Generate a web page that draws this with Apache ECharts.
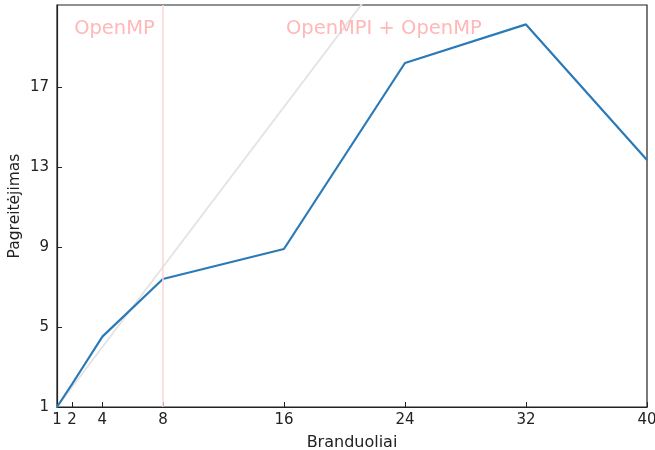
<!DOCTYPE html>
<html>
<head>
<meta charset="utf-8">
<script src="https://cdn.jsdelivr.net/npm/echarts@6/dist/echarts.min.js"></script>
<style>html,body{margin:0;padding:0;background:#fff}#c{width:655px;height:450px}</style>
</head>
<body>
<div id="c"></div>
<script>
const cores = [1, 2, 4, 8, 16, 24, 32, 40];
const speedup = [1, 2.15, 4.52, 7.4, 8.9, 18.2, 20.13, 13.35];
const idealX = [1, 40];
const xTicks = [1, 2, 4, 8, 16, 24, 32, 40];
const yTicks = [1, 5, 9, 13, 17];
const boundaryX = 8;
const annotations = [
  { text: 'OpenMP', x: 2, y: 19.9 },
  { text: 'OpenMPI + OpenMP', x: 16, y: 19.9 }
];

const font = 'DejaVu Sans';
const chart = echarts.init(document.getElementById('c'), null, { renderer: 'canvas' });
chart.setOption({
  animation: false,
  backgroundColor: '#fff',
  textStyle: { fontFamily: font },
  grid: { left: 57, right: 8, top: 5, bottom: 43, containLabel: false, outerBoundsMode: 'none', show: true, borderColor: '#222', borderWidth: 1.2, backgroundColor: 'transparent' },
  xAxis: {
    type: 'value', min: 1, max: 40,
    name: 'Branduoliai', nameLocation: 'middle', nameGap: 28, nameMoveOverlap: false,
    nameTextStyle: { color: '#222', fontSize: 16, fontFamily: font },
    axisLine: { show: true, lineStyle: { color: '#222', width: 1.2 } },
    axisTick: { show: true, inside: true, length: 5, customValues: xTicks, lineStyle: { color: '#222' } },
    axisLabel: { customValues: xTicks, color: '#222', fontSize: 15, fontFamily: font, margin: 6, showMaxLabel: true, showMinLabel: true },
    splitLine: { show: false }
  },
  yAxis: {
    type: 'value', min: 1, max: 21.1,
    name: 'Pagreitėjimas', nameLocation: 'middle', nameGap: 34, nameRotate: 90, nameMoveOverlap: false,
    nameTextStyle: { color: '#222', fontSize: 15.5, fontFamily: font },
    axisLine: { show: true, lineStyle: { color: '#222', width: 1.2 } },
    axisTick: { show: true, inside: true, length: 5, customValues: yTicks, lineStyle: { color: '#222' } },
    axisLabel: { customValues: yTicks, color: '#222', fontSize: 15, fontFamily: font, margin: 8 },
    splitLine: { show: false }
  },
  series: [
    {
      type: 'line', name: 'ideal', silent: true, symbol: 'none', clip: true,
      data: idealX.map(v => [v, v]),
      lineStyle: { color: '#e3e3e3', width: 1.8 },
      z: 1,
      markLine: {
        silent: true, symbol: 'none', label: { show: false },
        lineStyle: { color: '#ffd6d6', width: 1.5, type: 'solid' },
        data: [{ xAxis: boundaryX }]
      },
      markPoint: {
        silent: true, symbol: 'circle', symbolSize: 0,
        label: { show: true, position: 'right', distance: 2, color: '#ffb8b8', fontSize: 19.5, fontFamily: font, formatter: p => p.name },
        data: annotations.map(a => ({ name: a.text, coord: [a.x, a.y] }))
      }
    },
    {
      type: 'line', name: 'speedup', symbol: 'none', clip: true,
      data: cores.map((c, i) => [c, speedup[i]]),
      lineStyle: { color: '#2a7ab8', width: 2.2 },
      z: 3
    }
  ]
});
</script>
</body>
</html>
